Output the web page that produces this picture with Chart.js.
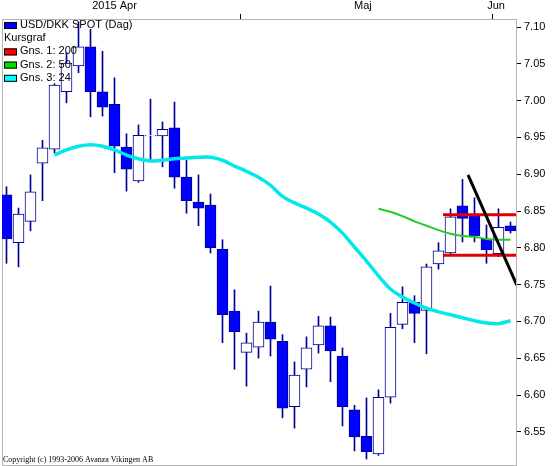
<!DOCTYPE html>
<html>
<head>
<meta charset="utf-8">
<title>USD/DKK SPOT (Dag)</title>
<script src="https://cdn.jsdelivr.net/npm/chart.js@4.4.1/dist/chart.umd.min.js"></script>
<style>
  html, body { margin: 0; padding: 0; background: #fff; }
  #wrap { width: 552px; height: 466px; position: relative; }
</style>
</head>
<body>
<div id="wrap"><canvas id="kursChart"></canvas></div>
<script>
// USD/DKK daily candles, 3 Apr - 3 Jun 2015
const opens  = [6.872, 6.807, 6.836, 6.915, 6.934, 7.012, 7.047, 7.073, 7.012, 6.995,
                6.937, 6.891, 6.952, 6.952, 6.963, 6.896, 6.862, 6.858, 6.798, 6.714,
                6.658, 6.665, 6.699, 6.673, 6.584, 6.635, 6.668, 6.694, 6.653, 6.580,
                6.544, 6.520, 6.597, 6.696, 6.726, 6.715, 6.778, 6.793, 6.857, 6.846,
                6.812, 6.792, 6.830];
const highs  = [6.883, 6.854, 6.899, 6.946, 7.023, 7.065, 7.107, 7.097, 7.067, 7.031,
                6.955, 6.967, 7.002, 6.971, 6.998, 6.919, 6.899, 6.873, 6.811, 6.743,
                6.684, 6.714, 6.748, 6.682, 6.645, 6.679, 6.707, 6.706, 6.664, 6.586,
                6.596, 6.607, 6.711, 6.747, 6.735, 6.778, 6.807, 6.853, 6.893, 6.868,
                6.831, 6.853, 6.835];
const lows   = [6.779, 6.774, 6.823, 6.864, 6.929, 6.997, 7.038, 6.978, 6.979, 6.902,
                6.877, 6.889, 6.919, 6.910, 6.881, 6.847, 6.830, 6.793, 6.671, 6.635,
                6.612, 6.650, 6.653, 6.569, 6.555, 6.611, 6.657, 6.618, 6.558, 6.524,
                6.513, 6.518, 6.589, 6.690, 6.671, 6.656, 6.771, 6.792, 6.808, 6.808,
                6.779, 6.788, 6.820];
const closes = [6.812, 6.846, 6.876, 6.936, 7.021, 7.051, 7.073, 7.012, 6.991, 6.938,
                6.907, 6.953, 6.953, 6.961, 6.896, 6.864, 6.854, 6.800, 6.709, 6.686,
                6.671, 6.699, 6.676, 6.582, 6.627, 6.664, 6.694, 6.660, 6.584, 6.543,
                6.523, 6.597, 6.692, 6.726, 6.711, 6.774, 6.796, 6.842, 6.840, 6.816,
                6.797, 6.828, 6.823];

// moving averages (Gns. 3: 24 and Gns. 2: 50)
const ma24 = [null, null, null, null, 6.926, 6.933, 6.938, 6.940, 6.938, 6.933,
              6.926, 6.921, 6.918, 6.919, 6.921, 6.922, 6.923, 6.923, 6.919, 6.911,
              6.904, 6.896, 6.885, 6.870, 6.861, 6.854, 6.846, 6.835, 6.820, 6.801,
              6.782, 6.762, 6.744, 6.733, 6.725, 6.718, 6.713, 6.709, 6.705, 6.701,
              6.698, 6.697, 6.701];
const ma50 = [null, null, null, null, null, null, null, null, null, null,
              null, null, null, null, null, null, null, null, null, null,
              null, null, null, null, null, null, null, null, null, null,
              null, 6.853, 6.849, 6.843, 6.836, 6.830, 6.824, 6.819, 6.816, 6.815,
              6.812, 6.811, 6.811];

// drawn lines: support / resistance and the falling trend line
const levelFrom = 36.375, levelTo = 42.6;
const resistance = 6.845, support = 6.790;
const trendX = [38.46, 42.54];
const trendY = [6.899, 6.749];

const yTicks = [6.55, 6.60, 6.65, 6.70, 6.75, 6.80, 6.85, 6.90, 6.95, 7.00, 7.05, 7.10];
const monthNames = ['2015 Apr', 'Maj', 'Jun'];
const monthCenters = [9.0, 29.7, 40.8];
const monthEdges = [19.5, 40.5];

const legendRows = [
  { text: 'USD/DKK SPOT (Dag)', color: '#0000ff' },
  { text: 'Kursgraf', color: null },
  { text: 'Gns. 1: 200', color: '#ff0000' },
  { text: 'Gns. 2: 50', color: '#00e000' },
  { text: 'Gns. 3: 24', color: '#00ffff' }
];

const navy = '#000099';
const idx = opens.map((_, i) => i);
const wickData = idx.map(i => ({ x: i, y: [lows[i], highs[i]] }));
const bodyData = idx.map(i => ({ x: i, y: [Math.min(opens[i], closes[i]), Math.max(opens[i], closes[i])] }));
const bodyColors = idx.map(i => closes[i] < opens[i] ? '#0000ff' : '#ffffff');
const toPoints = arr => arr.map((v, i) => ({ x: i, y: v })).filter(p => p.y !== null);

Chart.defaults.font.family = '"Liberation Sans", Arial, sans-serif';
Chart.defaults.font.size = 11;
Chart.defaults.color = '#000';

// frame round the plot area, drawn under the candles
const framePlugin = {
  id: 'frame',
  beforeDatasetsDraw(chart) {
    const a = chart.chartArea, ctx = chart.ctx;
    ctx.save();
    ctx.strokeStyle = '#b4b4b4';
    ctx.lineWidth = 1;
    ctx.strokeRect(a.left + 0.5, a.top + 0.5, a.right - a.left, a.bottom - a.top);
    ctx.restore();
  }
};

// legend in the top left corner and the copyright line
const overlayPlugin = {
  id: 'overlay',
  afterDraw(chart) {
    const ctx = chart.ctx, a = chart.chartArea;
    ctx.save();
    ctx.font = '11px "Liberation Sans", Arial, sans-serif';
    ctx.textBaseline = 'middle';
    legendRows.forEach((row, k) => {
      const y = a.top + 6 + k * 13.2;
      if (row.color) {
        ctx.fillStyle = row.color;
        ctx.fillRect(4, y - 3, 13, 7);
        ctx.strokeStyle = '#000';
        ctx.strokeRect(4.5, y - 2.5, 12, 6);
      }
      ctx.fillStyle = '#000';
      ctx.fillText(row.text, row.color ? 20 : 4, y);
    });
    ctx.font = '8px "Liberation Serif", "Times New Roman", serif';
    ctx.textBaseline = 'alphabetic';
    ctx.fillText('Copyright (c) 1993-2006 Avanza Vikingen AB', 3, a.bottom - 3);
    ctx.restore();
  }
};

new Chart(document.getElementById('kursChart'), {
  type: 'bar',
  data: {
    datasets: [
      { type: 'line', data: trendX.map((x, k) => ({ x, y: trendY[k] })),
        borderColor: '#000', borderWidth: 3, pointRadius: 0, order: 1 },
      { type: 'line', data: [{ x: levelFrom, y: resistance }, { x: levelTo, y: resistance }],
        borderColor: '#e00000', borderWidth: 3, pointRadius: 0, order: 2 },
      { type: 'line', data: [{ x: levelFrom, y: support }, { x: levelTo, y: support }],
        borderColor: '#e00000', borderWidth: 3, pointRadius: 0, order: 2 },
      { type: 'line', data: toPoints(ma50),
        borderColor: '#22cc22', borderWidth: 2, pointRadius: 0, tension: 0.3, order: 3 },
      { type: 'line', data: toPoints(ma24),
        borderColor: '#00e8e8', borderWidth: 3.5, pointRadius: 0, tension: 0.3, order: 4 },
      { data: bodyData, backgroundColor: bodyColors, borderColor: navy, borderWidth: 1,
        borderSkipped: false, barThickness: 11, grouped: false, order: 5 },
      { data: wickData, backgroundColor: navy, borderWidth: 0,
        barThickness: 1, grouped: false, order: 6 }
    ]
  },
  options: {
    responsive: true,
    maintainAspectRatio: false,
    animation: false,
    layout: { padding: { left: 2, right: 0, top: 0, bottom: 1 } },
    plugins: { legend: { display: false }, tooltip: { enabled: false } },
    scales: {
      x: {
        type: 'linear',
        position: 'top',
        min: -0.375,
        max: 42.46,
        offset: false,
        grid: {
          offset: false,
          drawOnChartArea: false,
          tickLength: 5,
          color: c => (c.tick && monthEdges.includes(c.tick.value)) ? '#000' : 'rgba(0,0,0,0)'
        },
        border: { display: false },
        ticks: {
          autoSkip: false,
          maxRotation: 0,
          padding: 1,
          callback: v => {
            const k = monthCenters.indexOf(v);
            return k >= 0 ? monthNames[k] : '';
          }
        },
        afterBuildTicks: s => {
          s.ticks = monthCenters.concat(monthEdges).sort((p, q) => p - q).map(v => ({ value: v }));
        },
        afterFit: s => { s.height = 19; s.paddingLeft = 0; s.paddingRight = 0; }
      },
      y: {
        position: 'right',
        min: 6.5049,
        max: 7.1109,
        grid: { drawOnChartArea: false, tickLength: 5, color: '#000' },
        border: { display: false },
        ticks: { padding: 3, callback: v => v.toFixed(2) },
        afterBuildTicks: s => { s.ticks = yTicks.map(v => ({ value: v })); },
        // the tick labels sit well inside the plot, so no extra room above or below
        afterFit: s => { s.width = 36; s.paddingTop = 0; s.paddingBottom = 0; }
      }
    }
  },
  plugins: [framePlugin, overlayPlugin]
});
</script>
</body>
</html>
